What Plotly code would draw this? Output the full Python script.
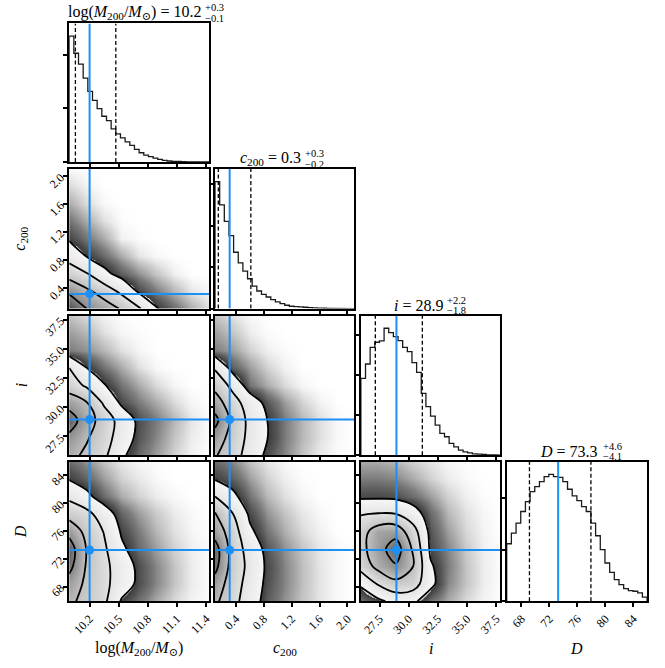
import numpy as np
import plotly.graph_objects as go

# ---------------- data ----------------
params = ["M", "c", "i", "D"]
param_ranges = {"M": [9.99, 11.43], "c": [0.10, 2.10], "i": [25.9, 37.85], "D": [65.9, 85.95]}
tick_vals = {"M": [10.2, 10.5, 10.8, 11.1, 11.4],
             "c": [0.4, 0.8, 1.2, 1.6, 2.0],
             "i": [27.5, 30.0, 32.5, 35.0, 37.5],
             "D": [68, 72, 76, 80, 84]}
tick_text = {"M": ["10.2", "10.5", "10.8", "11.1", "11.4"],
             "c": ["0.4", "0.8", "1.2", "1.6", "2.0"],
             "i": ["27.5", "30.0", "32.5", "35.0", "37.5"],
             "D": ["68", "72", "76", "80", "84"]}
truths = {"M": 10.2, "c": 0.31, "i": 28.95, "D": 73.25}
quant_lo_hi = {"M": [10.054, 10.47], "c": [0.147, 0.614], "i": [27.14, 31.17], "D": [69.15, 77.93]}

# 1-D histograms, 30 bins across each range (relative counts)
hist_M = [380, 328, 295, 253, 213, 186, 161, 138, 125, 100, 85, 73, 61, 50, 38,
          28, 21, 16, 12, 8, 5, 3, 2, 1.5, 1, 0.5, 0.3, 0.2, 0.1, 0.1]
hist_c = [383, 313, 263, 220, 170, 138, 113, 90, 68, 53, 43, 35, 27, 20, 15,
          10, 7, 6, 5, 4, 3, 2, 1.5, 1, 0.5, 0.3, 0.2, 0.1, 0.1, 0]
hist_i = [230, 273, 323, 338, 342, 380, 367, 355, 343, 323, 310, 277, 248, 185, 145,
          117, 90, 65, 55, 35, 25, 15, 10, 7, 4, 3, 2, 1, 0.5, 0.2]
hist_D = [173, 205, 235, 270, 300, 330, 345, 360, 375, 382, 375, 373, 360, 337, 317,
          303, 285, 270, 235, 197, 155, 115, 87, 65, 50, 38, 32, 30, 25, 12]
hists = {"M": hist_M, "c": hist_c, "i": hist_i, "D": hist_D}
hist_dtick = {"M": 162, "c": 125, "i": 120, "D": 155}

# 2-D density grids (9x9 nodes spanning each range), in "contour level" units:
# 1..4 are the four contour levels; below 1 is the scattered-point cloud.
dens_M_c = [
    [4.7, 4.0, 3.5, 2.9, 2.1, 1.05, 0.6, 0.3, 0.1],
    [3.85, 3.19, 2.55, 1.76, 0.85, 0.5, 0.25, 0.08, 0.02],
    [2.57, 2.05, 1.22, 0.7, 0.4, 0.2, 0.05, 0.0, 0.0],
    [1.62, 0.97, 0.6, 0.3, 0.08, 0.02, 0, 0, 0],
    [0.9, 0.55, 0.3, 0.05, 0.01, 0, 0, 0, 0],
    [0.55, 0.3, 0.1, 0.01, 0, 0, 0, 0, 0],
    [0.3, 0.12, 0.02, 0, 0, 0, 0, 0, 0],
    [0.12, 0.04, 0, 0, 0, 0, 0, 0, 0],
    [0.02, 0, 0, 0, 0, 0, 0, 0, 0],
]
dens_M_i = [
    [3.3, 2.8, 2.2, 1.14, 0.6, 0.35, 0.15, 0.04, 0.0],
    [3.8, 3.1, 2.4, 1.55, 0.75, 0.45, 0.2, 0.06, 0.01],
    [4.5, 3.45, 2.55, 1.6, 0.8, 0.5, 0.25, 0.08, 0.01],
    [3.6, 3.05, 1.85, 0.85, 0.5, 0.3, 0.12, 0.03, 0.0],
    [2.5, 1.85, 1.05, 0.55, 0.3, 0.12, 0.03, 0, 0],
    [2.0, 1.0, 0.55, 0.3, 0.1, 0.02, 0, 0, 0],
    [0.5, 0.4, 0.25, 0.1, 0.03, 0, 0, 0, 0],
    [0.35, 0.25, 0.1, 0.03, 0.01, 0, 0, 0, 0],
    [0.2, 0.12, 0.04, 0.01, 0, 0, 0, 0, 0],
]
dens_c_i = [
    [3.1, 2.4, 1.62, 0.8, 0.45, 0.2, 0.06, 0.01, 0],
    [3.6, 2.6, 1.75, 1.02, 0.5, 0.25, 0.1, 0.02, 0],
    [4.3, 2.75, 1.75, 1.0, 0.5, 0.25, 0.1, 0.02, 0],
    [3.5, 2.4, 1.55, 0.75, 0.35, 0.15, 0.04, 0, 0],
    [2.7, 1.75, 0.55, 0.3, 0.12, 0.03, 0, 0, 0],
    [1.9, 0.7, 0.35, 0.15, 0.04, 0, 0, 0, 0],
    [0.5, 0.35, 0.15, 0.05, 0.01, 0, 0, 0, 0],
    [0.35, 0.2, 0.06, 0.01, 0, 0, 0, 0, 0],
    [0.2, 0.1, 0.02, 0, 0, 0, 0, 0, 0],
]
dens_M_D = [
    [3.2, 2.7, 2.2, 0.9, 0.55, 0.3, 0.12, 0.04, 0.01],
    [3.6, 2.8, 2.25, 1.5, 0.8, 0.45, 0.2, 0.06, 0.01],
    [4.3, 2.9, 2.25, 1.5, 0.8, 0.45, 0.2, 0.06, 0.01],
    [4.5, 2.95, 2.15, 1.15, 0.6, 0.35, 0.15, 0.05, 0.01],
    [3.7, 2.7, 1.95, 0.9, 0.5, 0.25, 0.1, 0.03, 0],
    [2.6, 2.3, 1.45, 0.65, 0.35, 0.18, 0.07, 0.02, 0],
    [1.8, 1.2, 0.6, 0.3, 0.15, 0.06, 0.02, 0, 0],
    [0.95, 0.65, 0.35, 0.15, 0.07, 0.02, 0, 0, 0],
    [0.6, 0.4, 0.2, 0.08, 0.03, 0.01, 0, 0, 0],
]
dens_c_D = [
    [3.2, 2.35, 1.45, 0.7, 0.4, 0.2, 0.08, 0.02, 0],
    [3.6, 2.5, 1.6, 0.8, 0.45, 0.22, 0.08, 0.02, 0],
    [4.3, 2.6, 1.75, 0.85, 0.45, 0.22, 0.08, 0.02, 0],
    [4.4, 2.6, 1.6, 0.75, 0.4, 0.2, 0.07, 0.02, 0],
    [3.6, 2.5, 1.15, 0.55, 0.28, 0.12, 0.04, 0, 0],
    [3.1, 2.05, 0.85, 0.4, 0.2, 0.08, 0.02, 0, 0],
    [2.0, 1.2, 0.55, 0.25, 0.1, 0.03, 0, 0, 0],
    [0.95, 0.7, 0.35, 0.15, 0.05, 0.01, 0, 0, 0],
    [0.6, 0.45, 0.2, 0.08, 0.02, 0, 0, 0, 0],
]
dens_i_D = [
    [0.55, 0.8, 1.3, 1.15, 0.55, 0.3, 0.12, 0.04, 0.01],
    [1.1, 2.1, 2.7, 2.5, 1.2, 0.45, 0.2, 0.06, 0.01],
    [2.4, 3.3, 3.9, 3.0, 1.1, 0.5, 0.2, 0.06, 0.01],
    [2.7, 3.6, 4.5, 2.85, 0.85, 0.45, 0.18, 0.05, 0.01],
    [2.6, 3.5, 3.6, 2.4, 0.75, 0.35, 0.13, 0.04, 0],
    [1.95, 2.05, 2.0, 1.4, 0.6, 0.25, 0.1, 0.03, 0],
    [0.85, 0.85, 0.8, 0.6, 0.35, 0.15, 0.05, 0.01, 0],
    [0.5, 0.5, 0.45, 0.3, 0.15, 0.06, 0.02, 0, 0],
    [0.3, 0.3, 0.25, 0.15, 0.08, 0.03, 0.01, 0, 0],
]
dens = {("M", "c"): dens_M_c, ("M", "i"): dens_M_i, ("c", "i"): dens_c_i,
        ("M", "D"): dens_M_D, ("c", "D"): dens_c_D, ("i", "D"): dens_i_D}

axis_labels = {"M": "log(<i>M</i><sub>200</sub>/<i>M</i><sub>⊙</sub>)",
               "c": "<i>c</i><sub>200</sub>", "i": "<i>i</i>", "D": "<i>D</i>"}
title_main = {"M": "log(<i>M</i><sub>200</sub>/<i>M</i><sub>⊙</sub>) = 10.2",
              "c": "<i>c</i><sub>200</sub> = 0.3", "i": "<i>i</i> = 28.9", "D": "<i>D</i> = 73.3"}
title_err = {"M": ("+0.3", "−0.1"), "c": ("+0.3", "−0.2"), "i": ("+2.2", "−1.8"), "D": ("+4.6", "−4.1")}

# ---------------- layout constants ----------------
W, H = 665, 668
FONT = "Liberation Serif, DejaVu Serif, serif"
BLUE = "#1e8ff5"
col_px = [(69.5, 210.0), (216.0, 356.0), (362.5, 502.5), (509.0, 650.0)]
row_px = [(22.5, 161.5), (168.5, 308.5), (315.5, 455.5), (462.0, 602.0)]
title_end_px = [203.5, 304.0, 447.0, 603.0]


def fx(px):
    return px / W


def fy(py):
    return 1 - py / H


colorscale = [
    [0.0, "#ffffff"], [0.01, "#f0f0f0"], [0.03, "#d2d2d2"], [0.06, "#ababab"],
    [0.10, "#7c7c7c"], [0.15, "#565656"], [0.1995, "#3a3a3a"],
    [0.2, "#f7f7f7"], [0.4, "#e4e4e4"], [0.6, "#c0c0c0"], [0.8, "#888888"], [1.0, "#2e2e2e"],
]

fig = go.Figure()
layout = dict(width=W, height=H, margin=dict(l=0, r=0, t=0, b=0),
              paper_bgcolor="white", plot_bgcolor="white", showlegend=False)
annotations = []

base_axis = dict(showline=True, mirror=True, linecolor="black", linewidth=2,
                 ticks="outside", ticklen=4, tickwidth=1.5, tickcolor="black",
                 showgrid=False, zeroline=False, tickangle=-45,
                 tickfont=dict(family=FONT, size=12, color="black"), fixedrange=True)

n = 0
for r in range(4):
    for c in range(r + 1):
        n += 1
        xs = "" if n == 1 else str(n)
        xref, yref = "x" + xs, "y" + xs
        pc, pr = params[c], params[r]
        x0, x1 = col_px[c]
        y0, y1 = row_px[r]
        xa = dict(base_axis, domain=[fx(x0), fx(x1)], anchor=yref,
                  range=param_ranges[pc], tickmode="array", tickvals=tick_vals[pc],
                  ticktext=tick_text[pc], showticklabels=(r == 3))
        if r == c:
            h = np.array(hists[pc], dtype=float)
            ymax = 1.1 * h.max()
            ya = dict(base_axis, domain=[fy(y1), fy(y0)], anchor=xref,
                      range=[0, ymax], tickmode="linear", tick0=0, dtick=hist_dtick[pc],
                      showticklabels=False)
            edges = np.linspace(param_ranges[pc][0], param_ranges[pc][1], len(h) + 1)
            sx = np.repeat(edges, 2)
            sy = np.concatenate([[0], np.repeat(h, 2), [0]])
            fig.add_trace(go.Scatter(x=sx, y=sy, mode="lines", line=dict(color="#1a1a1a", width=1.3),
                                     xaxis=xref, yaxis=yref, hoverinfo="skip"))
            for q in quant_lo_hi[pc]:
                fig.add_trace(go.Scatter(x=[q, q], y=[0, ymax], mode="lines",
                                         line=dict(color="black", width=1.3, dash="4px,2.5px"),
                                         xaxis=xref, yaxis=yref, hoverinfo="skip"))
            fig.add_trace(go.Scatter(x=[truths[pc]] * 2, y=[0, ymax], mode="lines",
                                     line=dict(color=BLUE, width=2), xaxis=xref, yaxis=yref,
                                     hoverinfo="skip"))
            # title with stacked errors
            xe = title_end_px[c]
            yc = y0 - 10.5
            annotations.append(dict(x=fx(xe), y=fy(yc), xref="paper", yref="paper",
                                    text=title_main[pc], showarrow=False, xanchor="right",
                                    yanchor="middle", font=dict(family=FONT, size=16, color="black")))
            annotations.append(dict(x=fx(xe + 0.5), y=fy(yc - 5.0), xref="paper", yref="paper",
                                    text=title_err[pc][0], showarrow=False, xanchor="left",
                                    yanchor="middle", font=dict(family=FONT, size=10.5, color="black")))
            annotations.append(dict(x=fx(xe + 0.5), y=fy(yc + 5.5), xref="paper", yref="paper",
                                    text=title_err[pc][1], showarrow=False, xanchor="left",
                                    yanchor="middle", font=dict(family=FONT, size=10.5, color="black")))
        else:
            ya = dict(base_axis, domain=[fy(y1), fy(y0)], anchor=xref,
                      range=param_ranges[pr], tickmode="array", tickvals=tick_vals[pr],
                      ticktext=tick_text[pr], showticklabels=(c == 0))
            Z = dens[(pc, pr)]
            xn = np.linspace(param_ranges[pc][0], param_ranges[pc][1], len(Z[0]))
            yn = np.linspace(param_ranges[pr][0], param_ranges[pr][1], len(Z))
            fig.add_trace(go.Heatmap(x=xn, y=yn, z=Z, zmin=0, zmax=5, colorscale=colorscale,
                                     zsmooth="best", showscale=False, hoverinfo="skip",
                                     xaxis=xref, yaxis=yref))
            fig.add_trace(go.Contour(x=xn, y=yn, z=Z, autocontour=False,
                                     contours=dict(start=1, end=4, size=1, coloring="none"),
                                     line=dict(color="black", width=1.8, smoothing=1.0),
                                     showscale=False, hoverinfo="skip", xaxis=xref, yaxis=yref))
            fig.add_trace(go.Scatter(x=[truths[pc]] * 2, y=param_ranges[pr], mode="lines",
                                     line=dict(color=BLUE, width=2), xaxis=xref, yaxis=yref,
                                     hoverinfo="skip"))
            fig.add_trace(go.Scatter(x=param_ranges[pc], y=[truths[pr]] * 2, mode="lines",
                                     line=dict(color=BLUE, width=2), xaxis=xref, yaxis=yref,
                                     hoverinfo="skip"))
            fig.add_trace(go.Scatter(x=[truths[pc]], y=[truths[pr]], mode="markers",
                                     marker=dict(color=BLUE, size=9), xaxis=xref, yaxis=yref,
                                     hoverinfo="skip"))
        layout["xaxis" + xs] = xa
        layout["yaxis" + xs] = ya

# axis labels
for c, p in enumerate(params):
    xc = 0.5 * (col_px[c][0] + col_px[c][1])
    annotations.append(dict(x=fx(xc), y=fy(649), xref="paper", yref="paper", text=axis_labels[p],
                            showarrow=False, xanchor="center", yanchor="middle",
                            font=dict(family=FONT, size=16, color="black")))
for r in range(1, 4):
    yc = 0.5 * (row_px[r][0] + row_px[r][1])
    annotations.append(dict(x=fx(21), y=fy(yc), xref="paper", yref="paper", text=axis_labels[params[r]],
                            showarrow=False, xanchor="center", yanchor="middle", textangle=-90,
                            font=dict(family=FONT, size=16, color="black")))

layout["annotations"] = annotations
fig.update_layout(**layout)
fig.write_html("out.html", config={"displayModeBar": False},
               post_script="document.body.style.margin='0px';")
